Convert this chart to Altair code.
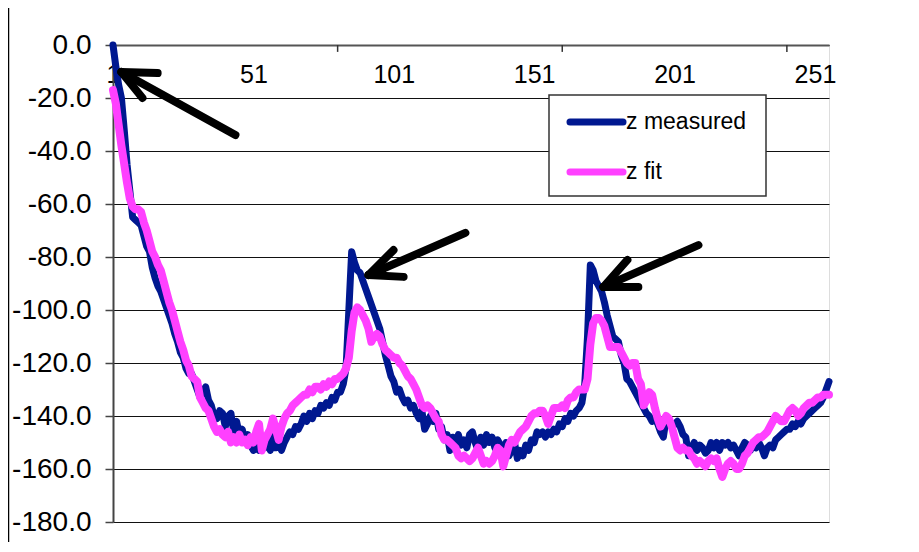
import altair as alt
import pandas as pd

measured = [
    0, -8, -15, -20, -32, -45, -55, -65, -66, -67, -68, -72, -76, -78, -84, -88,
    -91, -93, -96, -99, -102, -105, -109, -112, -116, -118, -122, -124, -124, -127, -130, -133,
    -131, -129, -134, -136, -140, -141, -138, -139, -144, -140, -139, -146, -142, -147, -145, -149,
    -147, -151, -153, -150, -153, -149, -152, -150, -153, -147, -152, -150, -153, -150, -148, -146,
    -147, -144, -145, -143, -140, -142, -139, -141, -138, -139, -136, -137, -135, -136, -133, -134,
    -131, -131, -128, -122, -100, -78, -82, -85, -86, -89, -92, -95, -98, -101, -104, -107,
    -112, -117, -121, -125, -127, -131, -130, -133, -135, -134, -137, -136, -139, -141, -138, -145,
    -143, -140, -142, -139, -145, -144, -149, -147, -153, -148, -150, -147, -151, -149, -152, -147,
    -146, -150, -153, -148, -151, -147, -150, -148, -152, -149, -151, -153, -150, -155, -153, -150,
    -156, -153, -155, -151, -153, -149, -150, -146, -147, -146, -148, -146, -147, -145, -146, -143,
    -144, -141, -142, -139, -140, -138, -137, -135, -128, -110, -83, -85, -89, -91, -93, -97,
    -102, -106, -110, -111, -112, -117, -120, -126, -127, -129, -131, -133, -135, -137, -139, -140,
    -142, -141, -143, -146, -148, -141, -142, -144, -143, -142, -144, -147, -148, -155, -152, -150,
    -153, -151, -152, -154, -153, -150, -152, -150, -153, -150, -151, -150, -152, -151, -153, -155,
    -152, -150, -151, -153, -150, -152, -150, -152, -155, -152, -151, -152, -149, -148, -147, -146,
    -145, -145, -143, -144, -142, -143, -141, -140, -139, -138, -137, -136, -135, -133, -130, -127,
]

fit = [
    -17, -22, -30, -38, -45, -52, -58, -61, -62, -62, -63, -67, -70, -74, -78, -80,
    -83, -85, -89, -93, -97, -100, -104, -108, -112, -115, -119, -121, -125, -126, -127, -133,
    -135, -137, -138, -141, -144, -146, -145, -147, -148, -146, -150, -148, -150, -147, -150, -149,
    -151, -148, -150, -146, -143, -153, -149, -147, -145, -141, -145, -149, -144, -141, -139, -138,
    -136, -135, -134, -133, -132, -132, -130, -131, -129, -129, -130, -128, -129, -127, -128, -126,
    -126, -125, -124, -122, -118, -108, -101, -99, -100, -102, -104, -107, -112, -110, -109, -110,
    -113, -115, -116, -117, -118, -118, -120, -121, -123, -125, -126, -128, -130, -133, -136, -137,
    -136, -137, -139, -141, -142, -147, -149, -149, -150, -151, -152, -155, -156, -155, -156, -157,
    -156, -154, -152, -155, -158, -157, -158, -157, -155, -152, -153, -159, -155, -151, -149, -150,
    -148, -146, -145, -144, -142, -140, -139, -139, -138, -138, -140, -143, -140, -137, -137, -137,
    -136, -137, -134, -133, -133, -131, -130, -130, -130, -126, -113, -105, -103, -103, -104, -106,
    -110, -114, -114, -114, -114, -116, -118, -120, -121, -120, -120, -126, -128, -136, -134, -131,
    -132, -137, -141, -144, -142, -140, -141, -144, -148, -152, -153, -152, -153, -153, -155, -156,
    -158, -157, -158, -159, -157, -156, -157, -156, -160, -163, -160, -158, -157, -158, -160, -160,
    -158, -155, -154, -152, -150, -149, -148, -148, -147, -146, -144, -142, -140, -141, -142, -142,
    -140, -138, -137, -138, -140, -139, -137, -136, -135, -135, -134, -133, -133, -132, -132, -132,
]

x_labels = [1, 51, 101, 151, 201, 251]
x_ticks = [81, 161, 241]
y_values = list(range(-180, 1, 20))

# arrows (data coordinates): tail/head segments
arrow_x = [44.6, 16.9, 11.5, 126.5, 100.9, 104.5, 209.5, 184.2, 188.1]
arrow_y = [-34.0, -10.6, -20.0, -70.9, -77.4, -87.5, -75.5, -81.1, -91.3]
arrow_x2 = [4.0, 4.0, 4.0, 92.0, 92.0, 92.0, 175.7, 175.7, 175.7]
arrow_y2 = [-10.2, -10.2, -10.2, -86.8, -86.8, -86.8, -91.3, -91.3, -91.3]

FONT = "Liberation Sans"
NAVY = "#001890"
PINK = "#FF40FF"

idx = list(range(1, len(measured) + 1))
df_m = pd.DataFrame({"i": idx, "v": measured})
df_f = pd.DataFrame({"i": idx, "v": fit})
df_ticks = pd.DataFrame({"i": x_ticks, "y0": [0] * len(x_ticks), "y1": [-2.6] * len(x_ticks)})
df_arrows = pd.DataFrame({"x": arrow_x, "y": arrow_y, "x2": arrow_x2, "y2": arrow_y2})

xscale = alt.Scale(domain=[1, 256], nice=False, zero=False)
yscale = alt.Scale(domain=[-180, 0], nice=False, zero=False)

xaxis = alt.Axis(
    orient="bottom", offset=-477, values=x_labels, ticks=False, grid=False,
    labelFontSize=25, labelFont=FONT, labelColor="#000", labelPadding=17,
    labelFlush=False, labelOverlap=False, domainColor="#555", domainWidth=2, title=None,
)
yaxis = alt.Axis(
    values=y_values, labelExpr="datum.value + '.0'", tickSize=8, tickColor="#444",
    tickWidth=1.5, labelFontSize=28, labelFont=FONT, labelColor="#000", labelPadding=14,
    domainColor="#444", domainWidth=2, grid=True, gridColor="#111", gridWidth=1, title=None,
)

base_m = alt.Chart(df_m).mark_line(color=NAVY, strokeWidth=7, strokeJoin="round", strokeCap="round").encode(
    x=alt.X("i:Q", scale=xscale, axis=xaxis),
    y=alt.Y("v:Q", scale=yscale, axis=yaxis),
)
line_f = alt.Chart(df_f).mark_line(color=PINK, strokeWidth=8, strokeJoin="round", strokeCap="round").encode(
    x=alt.X("i:Q", scale=xscale),
    y=alt.Y("v:Q", scale=yscale),
)
ticks = alt.Chart(df_ticks).mark_rule(color="#333", strokeWidth=1.5).encode(
    x=alt.X("i:Q", scale=xscale), y=alt.Y("y0:Q", scale=yscale), y2="y1:Q",
)
arrows = alt.Chart(df_arrows).mark_rule(color="#000", strokeWidth=8, strokeCap="round").encode(
    x=alt.X("x:Q", scale=xscale), y=alt.Y("y:Q", scale=yscale), x2="x2:Q", y2="y2:Q",
)

# manual legend box
legend_box = alt.Chart(pd.DataFrame({"a": [0]})).mark_rect(fill="white", stroke="#333", strokeWidth=1.5).encode(
    x=alt.value(436), x2=alt.value(653), y=alt.value(50), y2=alt.value(151),
)
leg_m = alt.Chart(pd.DataFrame({"a": [0]})).mark_rule(color=NAVY, strokeWidth=7, strokeCap="round").encode(
    x=alt.value(457), x2=alt.value(510), y=alt.value(77),
)
leg_f = alt.Chart(pd.DataFrame({"a": [0]})).mark_rule(color=PINK, strokeWidth=7, strokeCap="round").encode(
    x=alt.value(457), x2=alt.value(510), y=alt.value(127),
)
leg_t = alt.Chart(pd.DataFrame({"t": ["z measured", "z fit"], "yy": [77, 127]})).mark_text(
    align="left", baseline="middle", fontSize=23, font=FONT, color="#000",
).encode(x=alt.value(513), y=alt.Y("yy:Q", scale=None, axis=None), text="t:N")

frame = alt.Chart(pd.DataFrame({"a": [0]})).mark_rule(color="#000", strokeWidth=1.5).encode(
    x=alt.value(-104.5), y=alt.value(-37), y2=alt.value(520),
)

chart = alt.layer(base_m, line_f, ticks, arrows, legend_box, leg_m, leg_f, leg_t, frame).properties(
    width=716, height=477,
    padding={"left": 105, "top": 37, "right": 80, "bottom": 20},
    autosize=alt.AutoSizeParams(type="none"),
).configure_view(stroke="#999", strokeWidth=2.5).configure(background="white")

chart.save("out.html", embed_options={"renderer": "svg", "actions": False})
